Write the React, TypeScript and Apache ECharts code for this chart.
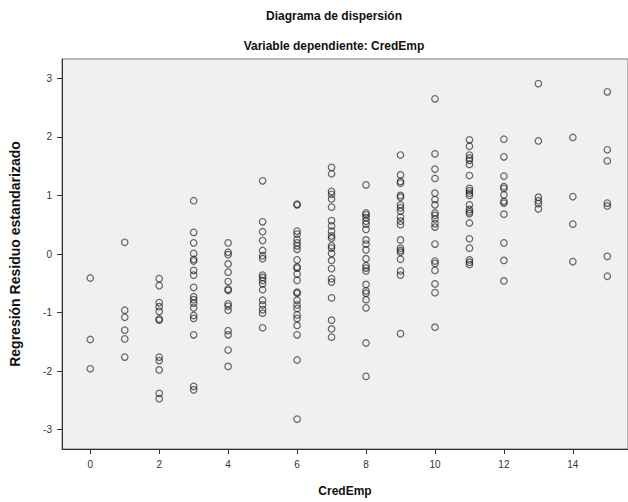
import React, { useEffect, useRef } from "react";
import * as echarts from "echarts";

// Residuo estandarizado por valor de CredEmp
const credEmpValues = [0, 1, 2, 3, 4, 5, 6, 7, 8, 9, 10, 11, 12, 13, 14, 15];
const res0 = [-0.41, -1.46, -1.96];
const res1 = [0.2, -0.96, -1.08, -1.3, -1.45, -1.76];
const res2 = [-0.42, -0.54, -0.83, -0.9, -0.98, -1.11, -1.13, -1.76, -1.82, -1.98, -2.38, -2.47];
const res3 = [0.91, 0.37, 0.19, 0.01, -0.09, -0.12, -0.28, -0.36, -0.57, -0.73, -0.78, -0.84, -0.92, -1.05, -1.1, -1.38, -2.26, -2.32];
const res4 = [0.19, 0.03, -0.01, -0.17, -0.31, -0.47, -0.6, -0.62, -0.85, -0.89, -0.96, -1.31, -1.38, -1.64, -1.92];
const res5 = [1.25, 0.55, 0.38, 0.23, 0.06, -0.03, -0.08, -0.36, -0.4, -0.45, -0.51, -0.61, -0.79, -0.87, -0.95, -1.01, -1.26];
const res6 = [0.85, 0.84, 0.39, 0.34, 0.25, 0.19, 0.14, 0.08, -0.1, -0.22, -0.24, -0.34, -0.45, -0.65, -0.67, -0.79, -0.87, -0.93, -1.04, -1.1, -1.22, -1.38, -1.81, -2.82];
const res7 = [1.48, 1.37, 1.07, 1.02, 0.94, 0.8, 0.57, 0.48, 0.39, 0.31, 0.27, 0.14, 0.1, 0.01, -0.11, -0.25, -0.42, -0.48, -0.75, -1.13, -1.28, -1.42];
const res8 = [1.18, 0.7, 0.67, 0.62, 0.56, 0.51, 0.42, 0.24, 0.17, 0.07, -0.08, -0.2, -0.24, -0.29, -0.52, -0.63, -0.67, -0.78, -0.92, -1.52, -2.09];
const res9 = [1.69, 1.35, 1.24, 1.21, 1.0, 0.97, 0.84, 0.79, 0.73, 0.63, 0.56, 0.5, 0.24, 0.1, 0.06, 0.03, -0.09, -0.29, -0.36, -1.36];
const res10 = [2.65, 1.71, 1.45, 1.29, 1.04, 0.93, 0.84, 0.7, 0.66, 0.6, 0.52, 0.46, 0.17, -0.12, -0.16, -0.28, -0.51, -0.66, -1.25];
const res11 = [1.95, 1.84, 1.69, 1.64, 1.6, 1.53, 1.34, 1.12, 1.08, 1.04, 1.0, 0.84, 0.76, 0.72, 0.69, 0.53, 0.26, 0.1, -0.1, -0.14, -0.18];
const res12 = [1.96, 1.66, 1.33, 1.15, 1.12, 1.01, 0.9, 0.87, 0.68, 0.19, -0.11, -0.46];
const res13 = [2.91, 1.93, 0.97, 0.91, 0.86, 0.77];
const res14 = [1.99, 0.98, 0.51, -0.13];
const res15 = [2.77, 1.78, 1.59, 0.87, 0.82, -0.04, -0.38];
const residualsByCredEmp = [res0, res1, res2, res3, res4, res5, res6, res7, res8, res9, res10, res11, res12, res13, res14, res15];

const xTicks = [0, 2, 4, 6, 8, 10, 12, 14];
const yTicks = [-3, -2, -1, 0, 1, 2, 3];

const FONT = "'Liberation Sans', Arial, sans-serif";

export default function App() {
  const ref = useRef<HTMLDivElement>(null);
  useEffect(() => {
    document.body.style.margin = "0";
    if (!ref.current) return;
    const chart = echarts.init(ref.current, null, { renderer: "svg" });
    const points: number[][] = [];
    credEmpValues.forEach((x, i) => {
      residualsByCredEmp[i].forEach((r) => points.push([x, r]));
    });
    chart.setOption({
      animation: false,
      backgroundColor: "#ffffff",
      graphic: [
        {
          type: "text",
          x: 334,
          y: 16,
          style: {
            text: "Diagrama de dispersión",
            font: `bold 12px ${FONT}`,
            fill: "#111",
            textAlign: "center",
            textVerticalAlign: "middle",
          },
        },
        {
          type: "text",
          x: 334,
          y: 46,
          style: {
            text: "Variable dependiente: CredEmp",
            font: `bold 12px ${FONT}`,
            fill: "#111",
            textAlign: "center",
            textVerticalAlign: "middle",
          },
        },
      ],
      grid: {
        left: 57,
        top: 59,
        right: -2,
        bottom: 49,
        show: true,
        backgroundColor: "#f0f0f0",
        borderColor: "#777",
        borderWidth: 1,
        containLabel: false,
      },
      xAxis: {
        type: "value",
        min: -0.82,
        max: 15.6,
        name: "CredEmp",
        nameLocation: "middle",
        nameGap: 36,
        nameTextStyle: { fontFamily: FONT, fontWeight: "bold", fontSize: 12, color: "#111" },
        axisLine: { show: true, onZero: false, lineStyle: { color: "#333", width: 1 } },
        axisTick: { show: true, length: 5, customValues: xTicks, lineStyle: { color: "#333" } },
        axisLabel: { customValues: xTicks, fontFamily: FONT, fontSize: 10, color: "#333", margin: 10 },
        splitLine: { show: false },
      },
      yAxis: {
        type: "value",
        min: -3.33,
        max: 3.33,
        name: "Regresión Residuo estandarizado",
        nameLocation: "middle",
        nameGap: 40,
        nameRotate: 90,
        nameTextStyle: { fontFamily: FONT, fontWeight: "bold", fontSize: 14, color: "#111" },
        axisLine: { show: true, onZero: false, lineStyle: { color: "#333", width: 1 } },
        axisTick: { show: true, length: 5, customValues: yTicks, lineStyle: { color: "#333" } },
        axisLabel: { customValues: yTicks, fontFamily: FONT, fontSize: 10, color: "#333", margin: 10 },
        splitLine: { show: false },
      },
      series: [
        {
          type: "scatter",
          data: points,
          symbol: "circle",
          symbolSize: 6.5,
          itemStyle: { color: "rgba(0,0,0,0)", borderColor: "rgba(20,20,20,0.8)", borderWidth: 1.2 },
        },
      ],
    });
    return () => chart.dispose();
  }, []);
  return <div ref={ref} style={{ width: 628, height: 502 }} />;
}
